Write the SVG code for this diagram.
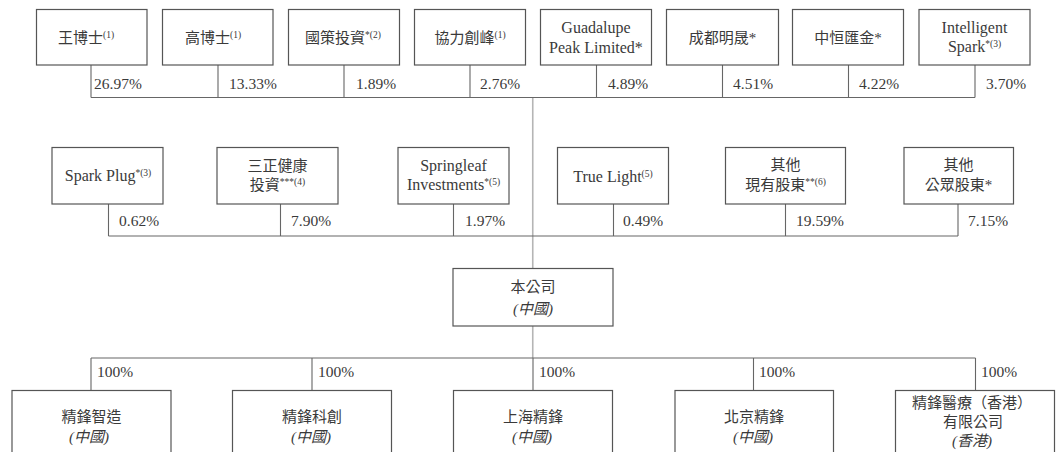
<svg xmlns="http://www.w3.org/2000/svg" width="1058" height="452" viewBox="0 0 1058 452">
<style>
.box{fill:#fff;stroke:#555;stroke-width:1.2}
.t{font-family:"Liberation Serif","Noto Sans CJK TC",serif;font-size:15px;fill:#3a3a3a;text-anchor:middle}
.l{font-size:16px}
.p{font-family:"Liberation Serif",serif;font-size:15.5px;fill:#3a3a3a}
.i{font-style:italic}
.s{font-size:9.5px}
.ln{stroke:#666;stroke-width:1.1;fill:none}
.tr{stroke:#b5b5b5;stroke-width:1.6;fill:none}
</style>
<rect width="1058" height="452" fill="#fff"/>
<g id="connectors">
<path class="tr" d="M532.75 97.5V268.5M532.75 326V358"/>
<path class="ln" d="M91 65V97.5M218 65V97.5M344 65V97.5M470 65V97.5M596.5 65V97.5M722.5 65V97.5M848.5 65V97.5M975 65V97.5M91 97.5H975"/>
<path class="ln" d="M108.5 204V236M280.5 204V236M453.5 204V236M613.5 204V236M785.5 204V236M958 204V236M108.5 236H958"/>
<path class="ln" d="M91 358H975.5M91 358V390.5M312 358V390.5M533 358V390.5M753.5 358V390.5M975.5 358V390.5"/>
<g class="p">
<text x="94" y="89">26.97%</text>
<text x="229" y="89">13.33%</text>
<text x="356" y="89">1.89%</text>
<text x="480" y="89">2.76%</text>
<text x="608" y="89">4.89%</text>
<text x="733" y="89">4.51%</text>
<text x="859" y="89">4.22%</text>
<text x="986" y="89">3.70%</text>
<text x="119" y="226">0.62%</text>
<text x="291" y="226">7.90%</text>
<text x="465" y="226">1.97%</text>
<text x="623" y="226">0.49%</text>
<text x="796" y="226">19.59%</text>
<text x="968" y="226">7.15%</text>
<text x="97" y="377">100%</text>
<text x="318" y="377">100%</text>
<text x="539" y="377">100%</text>
<text x="759" y="377">100%</text>
<text x="981" y="377">100%</text>
</g>
</g>
<g id="n_wang"><rect class="box" x="36.5" y="9.5" width="110.5" height="55.5"/><text class="t" x="86" y="42.5">王博士<tspan class="s" dy="-5">(1)</tspan></text></g>
<g id="n_gao"><rect class="box" x="162.5" y="9.5" width="110.5" height="55.5"/><text class="t" x="213" y="42.5">高博士<tspan class="s" dy="-5">(1)</tspan></text></g>
<g id="n_guoce"><rect class="box" x="288.5" y="9.5" width="111" height="55.5"/><text class="t" x="343" y="42.5">國策投資<tspan class="s" dy="-5">*(2)</tspan></text></g>
<g id="n_xieli"><rect class="box" x="414.5" y="9.5" width="111" height="55.5"/><text class="t" x="470" y="42.5">協力創峰<tspan class="s" dy="-5">(1)</tspan></text></g>
<g id="n_guadalupe"><rect class="box" x="540.5" y="9.5" width="111" height="55.5"/><text class="t l" x="596" y="33">Guadalupe</text><text class="t l" x="596" y="52.5">Peak Limited*</text></g>
<g id="n_chengdu"><rect class="box" x="666.5" y="9.5" width="112" height="55.5"/><text class="t" x="722.5" y="42.5">成都明晟*</text></g>
<g id="n_zhongheng"><rect class="box" x="792.5" y="9.5" width="111" height="55.5"/><text class="t" x="848" y="42.5">中恒匯金*</text></g>
<g id="n_intelligent"><rect class="box" x="919" y="9.5" width="111" height="55.5"/><text class="t l" x="974.5" y="32.5">Intelligent</text><text class="t l" x="974.5" y="52">Spark<tspan class="s" dy="-5">*(3)</tspan></text></g>
<g id="n_sparkplug"><rect class="box" x="52" y="147.5" width="111" height="56.5"/><text class="t l" x="108" y="181">Spark Plug<tspan class="s" dy="-5">*(3)</tspan></text></g>
<g id="n_sanzheng"><rect class="box" x="217" y="147.5" width="121" height="56.5"/><text class="t" x="277.5" y="170.5">三正健康</text><text class="t" x="277.5" y="189.5">投資<tspan class="s" dy="-5">***(4)</tspan></text></g>
<g id="n_springleaf"><rect class="box" x="398" y="147.5" width="111" height="56.5"/><text class="t l" x="453.5" y="170.5">Springleaf</text><text class="t l" x="453.5" y="190">Investments<tspan class="s" dy="-5">*(5)</tspan></text></g>
<g id="n_truelight"><rect class="box" x="557.5" y="147.5" width="111" height="56.5"/><text class="t l" x="613" y="181.5">True Light<tspan class="s" dy="-5">(5)</tspan></text></g>
<g id="n_other1"><rect class="box" x="725.5" y="147.5" width="120" height="56.5"/><text class="t" x="785.5" y="170">其他</text><text class="t" x="785.5" y="189.5">現有股東<tspan class="s" dy="-5">**(6)</tspan></text></g>
<g id="n_other2"><rect class="box" x="904" y="147.5" width="109.5" height="56.5"/><text class="t" x="958.5" y="170">其他</text><text class="t" x="958.5" y="189.5">公眾股東*</text></g>
<g id="n_company"><rect class="box" x="453" y="268.5" width="160" height="57.5"/><text class="t" x="533" y="292">本公司</text><text class="t i" x="533" y="313.5">(中國)</text></g>
<g id="n_zhizao"><rect class="box" x="12" y="390.5" width="159" height="80"/><text class="t" x="91.5" y="422">精鋒智造</text><text class="t i" x="89" y="441.5">(中國)</text></g>
<g id="n_kechuang"><rect class="box" x="232.5" y="390.5" width="159" height="80"/><text class="t" x="312" y="422">精鋒科創</text><text class="t i" x="311" y="441.5">(中國)</text></g>
<g id="n_shanghai"><rect class="box" x="453.5" y="390.5" width="159" height="80"/><text class="t" x="533" y="422">上海精鋒</text><text class="t i" x="532" y="441.5">(中國)</text></g>
<g id="n_beijing"><rect class="box" x="675" y="390.5" width="158.5" height="80"/><text class="t" x="754" y="422">北京精鋒</text><text class="t i" x="753" y="441.5">(中國)</text></g>
<g id="n_hk"><rect class="box" x="895.5" y="390.5" width="159" height="80"/><text class="t" x="972" y="408">精鋒醫療（香港）</text><text class="t" x="973" y="427">有限公司</text><text class="t i" x="972" y="446">(香港)</text></g>
</svg>
